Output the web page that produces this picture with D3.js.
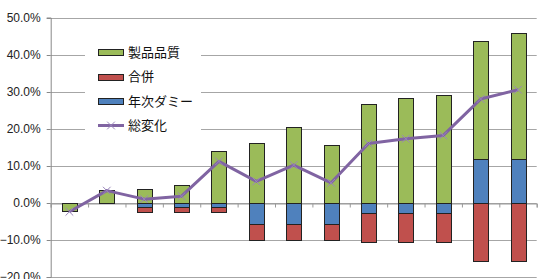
<!DOCTYPE html>
<html>
<head>
<meta charset="utf-8">
<script src="https://cdn.jsdelivr.net/npm/d3@7"></script>
<style>
  body { margin: 0; background: #fff; }
  svg { display: block; }
  .tick text { font-family: "Liberation Sans", Arial, sans-serif; font-size: 12px; fill: #222; }
  .legend text { font-family: "Noto Sans CJK JP", sans-serif; font-size: 13px; fill: #111; }
</style>
</head>
<body>
<svg id="chart" width="540" height="279"></svg>
<script>
// categories (no labels shown on the axis)
const categories = ["1", "2", "3", "4", "5", "6", "7", "8", "9", "10", "11", "12", "13"];

// stacked components, in %
const nenjiDummy = [0, 0, -1.0, -1.0, -1.0, -5.7, -5.7, -5.7, -2.7, -2.7, -2.7, 11.9, 11.9];
const gappei     = [0, 0, -1.4, -1.4, -1.4, -4.3, -4.3, -4.3, -7.9, -7.9, -7.9, -15.6, -15.6];
const seihin     = [-2.3, 3.6, 3.8, 4.7, 13.9, 16.2, 20.4, 15.6, 26.6, 28.3, 29.1, 31.7, 33.9];

// total change line, in %
const souHenka   = [-2.4, 3.3, 1.0, 1.8, 11.2, 5.8, 10.2, 5.4, 16.0, 17.3, 18.2, 28.0, 30.5];

const yTicks = [-20, -10, 0, 10, 20, 30, 40, 50];

// series order as Excel stacks them (first = closest to zero)
const seriesKeys = ["年次ダミー", "合併", "製品品質"];
const seriesColor = { "製品品質": "#9bbb59", "合併": "#c0504d", "年次ダミー": "#4f81bd" };
const lineColor = "#8064a2";
const legendOrder = ["製品品質", "合併", "年次ダミー"];

const rows = categories.map((c, i) => ({
    cat: c,
    "年次ダミー": nenjiDummy[i],
    "合併": gappei[i],
    "製品品質": seihin[i],
    total: souHenka[i]
}));

const svg = d3.select("#chart");
const plotLeft = 50.7, plotRight = 536.7, plotTop = 17.5, plotBottom = 277;

const x = d3.scaleBand()
    .domain(categories)
    .range([plotLeft, plotRight])
    .paddingInner(0.6)
    .paddingOuter(0.3);

const xEdge = d3.scaleLinear().domain([0, categories.length]).range([plotLeft, plotRight]);

const y = d3.scaleLinear().domain([-20, 50]).range([plotBottom, plotTop]);

// gridlines
svg.append("g")
    .selectAll("line")
    .data(yTicks)
    .join("line")
    .attr("x1", plotLeft)
    .attr("x2", plotRight)
    .attr("y1", d => Math.round(y(d)) + 0.5)
    .attr("y2", d => Math.round(y(d)) + 0.5)
    .attr("stroke", "#a6a6a6")
    .attr("stroke-width", 1);

// y axis
const yAxis = svg.append("g")
    .attr("transform", `translate(${plotLeft},0)`)
    .call(d3.axisLeft(y).tickValues(yTicks).tickSize(4).tickPadding(6)
        .tickFormat(d => d3.format(".1f")(d) + "%"));
yAxis.select(".domain").attr("stroke", "#888");
yAxis.selectAll(".tick line").attr("stroke", "#888");
yAxis.selectAll(".tick").attr("transform", d => `translate(0,${Math.round(y(d)) + 0.5})`);

// category axis on zero line, ticks only
const xAxis = svg.append("g")
    .attr("transform", `translate(0,${Math.round(y(0)) + 0.5})`)
    .call(d3.axisBottom(xEdge).tickValues(d3.range(categories.length + 1)).tickSize(4).tickFormat(""));
xAxis.select(".domain").attr("stroke", "#999");
xAxis.selectAll(".tick line").attr("stroke", "#999");

// stacked bars
const stacked = d3.stack()
    .keys(seriesKeys)
    .offset(d3.stackOffsetDiverging)(rows);

svg.append("g")
    .selectAll("g")
    .data(stacked)
    .join("g")
    .attr("fill", d => seriesColor[d.key])
    .selectAll("rect")
    .data(d => d.filter(p => p[0] !== p[1]))
    .join("rect")
    .attr("x", d => Math.round(x(d.data.cat)) + 0.5)
    .attr("width", Math.round(x.bandwidth()))
    .attr("y", d => Math.round(y(Math.max(d[0], d[1]))) + 0.5)
    .attr("height", d => Math.round(y(Math.min(d[0], d[1]))) - Math.round(y(Math.max(d[0], d[1]))))
    .attr("stroke", "#222")
    .attr("stroke-width", 1);

// total change line
const cx = d => x(d.cat) + x.bandwidth() / 2;
const line = d3.line()
    .x(cx)
    .y(d => y(d.total));

svg.append("path")
    .datum(rows)
    .attr("d", line)
    .attr("fill", "none")
    .attr("stroke", lineColor)
    .attr("stroke-width", 3)
    .attr("stroke-linejoin", "round");

const marker = d3.symbol().type(d3.symbolX).size(40);
svg.append("g")
    .selectAll("path")
    .data(rows)
    .join("path")
    .attr("transform", d => `translate(${cx(d)},${y(d.total)})`)
    .attr("d", marker)
    .attr("fill", "none")
    .attr("stroke", "#9a86bb")
    .attr("stroke-width", 1);

// legend
const legend = svg.append("g").attr("class", "legend");
legend.append("rect")
    .attr("x", 85)
    .attr("y", 40)
    .attr("width", 116)
    .attr("height", 97)
    .attr("fill", "#fff");

const rowY = d3.scalePoint().domain([...legendOrder, "総変化"]).range([52, 125.5]);

legendOrder.forEach(k => {
    legend.append("rect")
        .attr("x", 98.5)
        .attr("y", Math.round(rowY(k)) - 2.5)
        .attr("width", 25)
        .attr("height", 6)
        .attr("fill", seriesColor[k])
        .attr("stroke", "#222")
        .attr("stroke-width", 1);
});

legend.append("line")
    .attr("x1", 98)
    .attr("x2", 124)
    .attr("y1", rowY("総変化"))
    .attr("y2", rowY("総変化"))
    .attr("stroke", lineColor)
    .attr("stroke-width", 3);
legend.append("path")
    .attr("transform", `translate(111,${rowY("総変化")})`)
    .attr("d", marker)
    .attr("fill", "none")
    .attr("stroke", "#9a86bb")
    .attr("stroke-width", 1);

legend.selectAll("text")
    .data(rowY.domain())
    .join("text")
    .attr("x", 128)
    .attr("y", d => rowY(d))
    .attr("dy", "0.35em")
    .text(d => d);
</script>
</body>
</html>
